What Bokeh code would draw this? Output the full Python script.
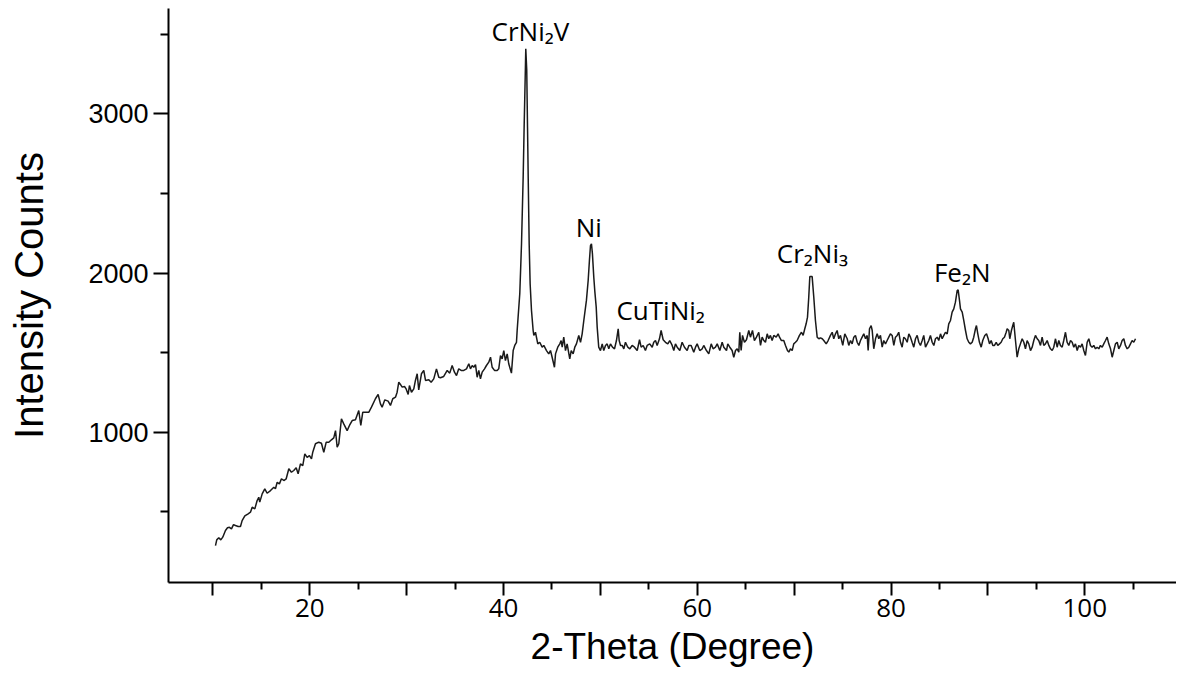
import math
from bokeh.plotting import figure
from bokeh.models import Range1d, FixedTicker, Label
from bokeh.embed import file_html
from bokeh.resources import INLINE

# ---- data ----
two_theta = [
    10.27, 10.40, 10.61, 10.82, 11.02, 11.30, 11.51, 11.71, 11.92, 12.13, 12.33, 12.61, 12.85,
    13.02, 13.30, 13.64, 13.88, 14.06, 14.33, 14.57, 14.74, 14.84, 15.09, 15.36, 15.60, 15.95,
    16.29, 16.46, 16.64, 16.87, 17.08, 17.32, 17.57, 17.84, 18.11, 18.35, 18.60, 18.80, 19.04,
    19.28, 19.49, 19.73, 19.97, 20.18, 20.31, 20.59, 20.93, 21.21, 21.45, 21.70, 21.97, 22.24,
    22.48, 22.66, 22.83, 23.00, 23.27, 23.51, 23.86, 24.10, 24.38, 24.72, 25.06, 25.27, 25.47,
    25.75, 26.09, 26.37, 26.78, 27.06, 27.30, 27.47, 27.75, 28.09, 28.33, 28.57, 28.85, 29.02,
    29.19, 29.36, 29.54, 29.78, 29.95, 30.16, 30.29, 30.50, 30.74, 30.91, 31.09, 31.25, 31.53,
    31.77,
    31.95, 32.29, 32.53, 32.80, 33.08, 33.32, 33.49, 33.83, 34.19, 34.45, 34.70, 34.94, 35.15,
    35.38, 35.63, 35.90, 36.18, 36.42, 36.59, 36.77, 36.93, 37.11, 37.28, 37.45, 37.62, 37.80,
    38.04, 38.24, 38.48, 38.66, 38.83, 39.07, 39.35, 39.51, 39.69, 39.86, 40.03, 40.20, 40.38,
    40.54, 40.82, 41.00, 41.16, 41.34,
    41.41, 41.68, 41.86, 42.03, 42.13, 42.24, 42.30, 42.40, 42.48, 42.55, 42.65, 42.75, 42.89,
    43.06,
    43.13, 43.30, 43.54, 43.74, 43.99, 44.16, 44.44, 44.67, 44.85, 45.02, 45.26, 45.37, 45.60,
    45.81, 45.95, 46.06, 46.22, 46.40, 46.57, 46.84, 46.99, 47.19, 47.36, 47.53, 47.77, 47.95,
    48.12, 48.29, 48.56, 48.74, 48.87, 48.98, 49.08, 49.18, 49.32, 49.42, 49.57, 49.67, 49.83,
    50.01, 50.19, 50.35, 50.53, 50.70, 50.87, 51.04, 51.25, 51.46, 51.66, 51.84, 51.94, 52.08,
    52.25, 52.42, 52.59, 52.83, 53.04, 53.28, 53.52, 53.80, 54.04, 54.21, 54.42, 54.65, 54.83,
    55.10, 55.35, 55.51, 55.69, 55.86, 56.10, 56.27, 56.48, 56.72, 56.96, 57.16, 57.41, 57.58,
    57.75, 57.93, 58.20, 58.44, 58.68, 58.96, 59.13, 59.37, 59.64, 59.82, 59.99, 60.26, 60.51,
    60.67, 60.95, 61.19, 61.44, 61.64, 61.88, 62.06, 62.33, 62.57, 62.74, 63.02, 63.15, 63.36,
    63.60, 63.77, 63.95, 64.12, 64.29, 64.39, 64.53, 64.67, 64.87, 65.08, 65.32, 65.49, 65.70,
    65.90, 66.11, 66.35,
    66.53, 66.70, 66.87, 67.04, 67.22, 67.38, 67.55, 67.73, 67.90, 68.15, 68.35, 68.49, 68.69,
    68.93, 69.11, 69.31, 69.45, 69.62, 69.80, 69.96, 70.14, 70.31, 70.55, 70.76, 70.93, 71.10,
    71.24, 71.38, 71.51, 71.62, 71.86, 72.03, 72.20, 72.38, 72.55, 72.72, 72.90, 73.06, 73.31,
    73.51, 73.75, 73.93, 74.09, 74.27, 74.44, 74.61, 74.78, 75.02, 75.23, 75.48, 75.64, 75.82,
    75.99, 76.16, 76.33, 76.51, 76.68, 76.85, 77.02, 77.19, 77.37, 77.54, 77.64, 77.78, 77.95,
    78.06, 78.22, 78.40, 78.57, 78.74, 78.91, 79.09, 79.25, 79.43, 79.60, 79.77, 79.94, 80.12,
    80.29, 80.46, 80.64, 80.80, 80.98, 81.15, 81.32, 81.49, 81.67, 81.84, 82.01, 82.18, 82.35,
    82.53, 82.70, 82.87, 83.04, 83.22, 83.38, 83.56, 83.73, 83.90, 84.07, 84.25, 84.42, 84.59,
    84.77, 84.93, 85.11, 85.28, 85.45, 85.62, 85.80, 85.96, 86.14, 86.31, 86.48, 86.65, 86.83,
    86.93,
    87.07, 87.17, 87.35, 87.51, 87.69, 87.86, 88.03, 88.20, 88.38, 88.54, 88.72, 88.82, 88.96,
    89.13, 89.31, 89.47, 89.68, 89.86, 90.03, 90.17, 90.34, 90.51, 90.68, 90.86, 91.02, 91.20,
    91.37, 91.54, 91.71, 91.89, 91.99, 92.16, 92.26, 92.43, 92.57, 92.67, 92.85, 93.02, 93.19,
    93.36, 93.54, 93.71, 93.88, 94.05, 94.22, 94.40, 94.57, 94.74, 94.91, 95.09, 95.25, 95.43,
    95.60, 95.77, 95.94, 96.12, 96.29, 96.46, 96.64, 96.80, 96.98, 97.15, 97.32, 97.49, 97.67,
    97.83, 98.01, 98.18, 98.35, 98.53, 98.70, 98.87, 99.04, 99.22, 99.38, 99.56, 99.73, 99.90,
    100.07, 100.25, 100.42, 100.59, 100.76, 100.93, 101.11, 101.28, 101.45, 101.62, 101.80,
    101.96, 102.14, 102.31, 102.48, 102.66, 102.83, 103.00, 103.17, 103.35, 103.51, 103.69,
    103.86, 104.03, 104.20, 104.38, 104.55, 104.72, 104.89, 105.06, 105.24,
]

intensity = [
    287, 323, 336, 323, 340, 382, 399, 402, 392, 419, 413, 407, 407,
    444, 474, 487, 497, 528, 518, 570, 591, 560, 612, 644, 616, 633,
    654, 644, 685, 675, 707, 696, 707, 770, 748, 759, 776, 738, 801,
    790, 864, 842, 853, 832, 874, 927, 937, 930, 874, 937, 937, 952,
    964, 1010, 905, 927, 1084, 1052, 1010, 1042, 1073, 1078, 1136, 1042, 1125,
    1125, 1125, 1157, 1210, 1237, 1178, 1157, 1203, 1195, 1168, 1210, 1220, 1251,
    1314, 1300, 1283, 1287, 1272, 1237, 1293, 1251, 1272, 1325, 1367, 1266, 1367,
    1388,
    1325, 1329, 1314, 1335, 1398, 1345, 1342, 1350, 1388, 1371, 1419, 1377, 1356,
    1398, 1388, 1388, 1398, 1430, 1398, 1419, 1408, 1425, 1345, 1388, 1335, 1377,
    1398, 1419, 1440, 1471, 1408, 1388, 1388, 1398, 1482, 1461, 1513, 1450, 1492,
    1430, 1371, 1513, 1545, 1565,
    1639, 1870, 2184, 2603, 2917, 3231, 3410, 3274, 2917, 2603, 2184, 1933, 1765,
    1639,
    1608, 1628, 1555, 1565, 1534, 1545, 1513, 1492, 1513, 1471, 1408, 1492, 1534,
    1555, 1576, 1534, 1597, 1513, 1555, 1461, 1513, 1492, 1534, 1555, 1608, 1565,
    1618, 1702, 1828, 1953, 2079, 2173, 2184, 2121, 1974, 1890, 1786, 1660, 1534,
    1513, 1555, 1513, 1545, 1555, 1524, 1555, 1534, 1524, 1576, 1650, 1576, 1545,
    1545, 1524, 1565, 1534, 1524, 1545, 1534, 1513, 1581, 1534, 1545, 1513, 1545,
    1555, 1534, 1565, 1576, 1545, 1587, 1639, 1581, 1565, 1555, 1576, 1545, 1513,
    1555, 1534, 1513, 1565, 1534, 1513, 1545, 1545, 1503, 1534, 1555, 1513, 1524,
    1545, 1513, 1492, 1555, 1524, 1534, 1555, 1513, 1565, 1534, 1513, 1555, 1534,
    1513, 1471, 1513, 1524, 1503, 1628, 1513, 1608, 1565, 1581, 1639, 1597, 1639,
    1576, 1597, 1628,
    1545, 1597, 1576, 1565, 1618, 1587, 1608, 1576, 1608, 1597, 1618, 1597, 1576,
    1576, 1545, 1513, 1503, 1524, 1513, 1555, 1565, 1576, 1608, 1628, 1608, 1650,
    1681, 1723, 1848, 1978, 1978, 1848, 1702, 1597, 1587, 1593, 1587, 1576, 1555,
    1576, 1608, 1628, 1587, 1618, 1639, 1587, 1608, 1545, 1618, 1587, 1545, 1576,
    1555, 1597, 1608, 1565, 1545, 1576, 1597, 1618, 1587, 1608, 1513, 1650, 1670,
    1639, 1524, 1587, 1618, 1587, 1608, 1534, 1576, 1555, 1576, 1597, 1618, 1608,
    1545, 1597, 1608, 1628, 1565, 1534, 1597, 1587, 1565, 1618, 1597, 1565, 1534,
    1587, 1608, 1565, 1545, 1576, 1608, 1534, 1555, 1576, 1608, 1565, 1545, 1587,
    1597, 1576, 1618, 1587, 1608, 1628, 1618, 1681, 1702, 1754, 1775, 1817, 1890,
    1895,
    1828, 1775, 1754, 1702, 1639, 1587, 1565, 1555, 1565, 1597, 1650, 1670, 1618,
    1565, 1534, 1576, 1608, 1618, 1587, 1555, 1576, 1545, 1545, 1565, 1545, 1555,
    1565, 1587, 1597, 1628, 1650, 1639, 1587, 1639, 1670, 1691, 1576, 1471, 1524,
    1555, 1587, 1565, 1524, 1576, 1555, 1513, 1534, 1576, 1608, 1587, 1576, 1545,
    1597, 1545, 1555, 1576, 1545, 1524, 1513, 1534, 1587, 1534, 1576, 1545, 1534,
    1576, 1628, 1565, 1545, 1576, 1565, 1534, 1555, 1513, 1545, 1534, 1555, 1513,
    1482, 1565, 1587, 1545, 1534, 1545, 1524, 1534, 1524, 1545, 1534,
    1555, 1576, 1597, 1555, 1524, 1471, 1513, 1555, 1565, 1524, 1545,
    1576, 1587, 1545, 1524, 1534, 1555, 1576, 1565, 1587,
]

peak_names = ["CrNi\u2082V", "Ni", "CuTiNi\u2082", "Cr\u2082Ni\u2083", "Fe\u2082N"]
peak_label_x = [42.78, 48.80, 51.66, 71.89, 87.35]
peak_label_y = [3519, 2287, 1768, 2126, 2006]
peak_align = ["center", "center", "left", "center", "center"]

x_major = [10, 20, 30, 40, 50, 60, 70, 80, 90, 100, 110]
x_labeled = [20, 40, 60, 80, 100]
x_minor = [15, 25, 35, 45, 55, 65, 75, 85, 95, 105]
y_major = [1000, 2000, 3000]
y_minor = [500, 1500, 2500, 3500]

# ---- figure ----
p = figure(width=1176, height=672, output_backend="svg", toolbar_location=None,
           x_range=Range1d(5.42, 109.47), y_range=Range1d(55, 3663),
           min_border_left=168, min_border_right=0, min_border_top=8,
           min_border_bottom=90)
p.outline_line_color = None
p.xgrid.grid_line_color = None
p.ygrid.grid_line_color = None
p.background_fill_color = "white"
p.border_fill_color = "white"

p.line(two_theta, intensity, line_color="#1a1a1a", line_width=1.5)

for name, lx, ly, al in zip(peak_names, peak_label_x, peak_label_y, peak_align):
    p.add_layout(Label(x=lx, y=ly, text=name, text_align=al, text_baseline="middle",
                       text_font="Open Sans", text_font_size="26px", text_color="black"))

# x axis
xa = p.xaxis[0]
xa.ticker = FixedTicker(ticks=x_major, minor_ticks=x_minor)
xa.major_label_overrides = {t: ("" if t not in x_labeled else str(t)) for t in x_major}
xa.axis_line_width = 2
xa.axis_line_color = "black"
xa.major_tick_out = 13
xa.major_tick_in = 0
xa.minor_tick_out = 7
xa.minor_tick_in = 0
xa.major_tick_line_width = 2
xa.minor_tick_line_width = 2
xa.major_label_text_font = "Open Sans"
xa.major_label_text_font_size = "26px"
xa.major_label_text_color = "black"
xa.major_label_standoff = 3
xa.axis_label = "2-Theta (Degree)"
xa.axis_label_text_font = "Liberation Sans"
xa.axis_label_text_font_style = "normal"
xa.axis_label_text_font_size = "37px"
xa.axis_label_text_color = "black"
xa.axis_label_standoff = 6

# y axis
ya = p.yaxis[0]
ya.ticker = FixedTicker(ticks=y_major, minor_ticks=y_minor)
ya.axis_line_width = 2
ya.axis_line_color = "black"
ya.major_tick_out = 15
ya.major_tick_in = 0
ya.minor_tick_out = 8
ya.minor_tick_in = 0
ya.major_tick_line_width = 2
ya.minor_tick_line_width = 2
ya.major_label_text_font = "Liberation Sans"
ya.major_label_text_font_size = "27px"
ya.major_label_text_color = "black"
ya.major_label_standoff = 5
ya.axis_label = "Intensity Counts"
ya.axis_label_text_font = "Liberation Sans"
ya.axis_label_text_font_style = "normal"
ya.axis_label_text_font_size = "40px"
ya.axis_label_text_color = "black"
ya.axis_label_standoff = 34

open("out.html", "w").write(file_html(p, INLINE))
